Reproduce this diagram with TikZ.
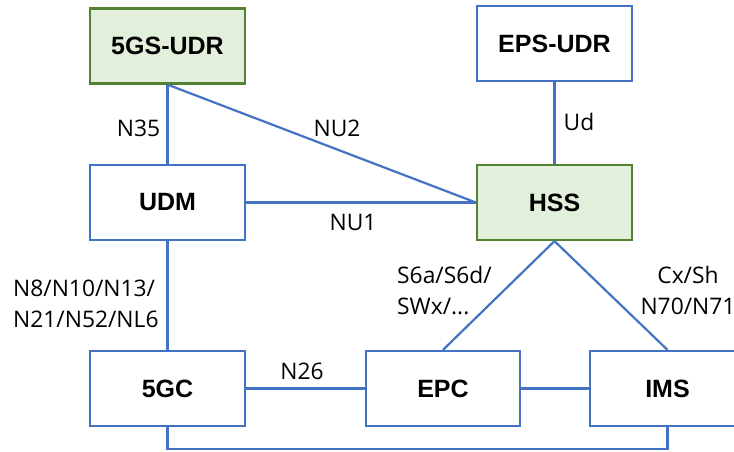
\documentclass[tikz,border=0pt]{standalone}
\usepackage{fontspec}
\setmainfont{Open Sans}
\newfontfamily\boxfont{Liberation Sans}
\usetikzlibrary{calc}
\definecolor{linkblue}{HTML}{4472C4}
\definecolor{udrfill}{HTML}{E2EFDA}
\definecolor{udredge}{HTML}{548235}

\begin{document}
\begin{tikzpicture}[x=1pt,y=-1pt,
  nf/.style={draw=linkblue,line width=2.2pt,minimum width=155pt,minimum height=75pt,
    inner sep=0pt,font=\boxfont\fontsize{25}{29}\selectfont\bfseries},
  dbnf/.style={nf,draw=udredge,fill=udrfill},
  link/.style={draw=linkblue,line width=2.2pt},
  ref/.style={font=\fontsize{22.8}{31}\selectfont,inner sep=0pt}]
  \useasboundingbox (0,0) rectangle (734,451);
  \clip (0,0) rectangle (734,451);

  \node[dbnf] (udr5g)  at (167.5,46)    {5GS-UDR};
  \node[nf]   (udreps) at (554.5,43.5)  {EPS-UDR};
  \node[nf]   (udm)    at (167.5,202.5) {UDM};
  \node[dbnf] (hss)    at (554.5,202.5) {HSS};
  \node[nf]   (fivegc) at (167.5,388.5) {5GC};
  \node[nf,minimum width=154pt] (epc) at (443,388.5) {EPC};
  \node[nf]   (ims)    at (667.5,388.5) {IMS};
  \coordinate (bus) at (0,449);

  \draw[link] (udr5g.south) -- (udm.north);
  \draw[link] (udr5g.south) -- (hss.west);
  \draw[link] (udm.east) -- (hss.west);
  \draw[link] (udreps.south) -- (hss.north);
  \draw[link] (udm.south) -- (fivegc.north);
  \draw[link] (fivegc.east) -- (epc.west);
  \draw[link] (epc.east) -- (ims.west);
  \draw[link] (hss.south) -- (epc.north);
  \draw[link] (hss.south) -- (ims.north);
  \draw[link] (fivegc.south) |- (bus -| ims.south) -- (ims.south);

  \node[ref] (n35) at (138.5,128) {N35};
  \node[ref] (nu2) at (337,128) {NU2};
  \node[ref] (nu1) at (353,222) {NU1};
  \node[ref] (ud)  at (579,122) {Ud};
  \node[ref,anchor=west,align=left] (n8) at (13,304) {N8/N10/N13/\\N21/N52/NL6};
  \node[ref] (n26) at (302,371) {N26};
  \node[ref,anchor=west,align=left] (s6a) at (397,290) {S6a/S6d/\\SWx/...};
  \node[ref,align=center] (cxsh) at (688,290) {Cx/Sh\\N70/N71};
\end{tikzpicture}
\end{document}
